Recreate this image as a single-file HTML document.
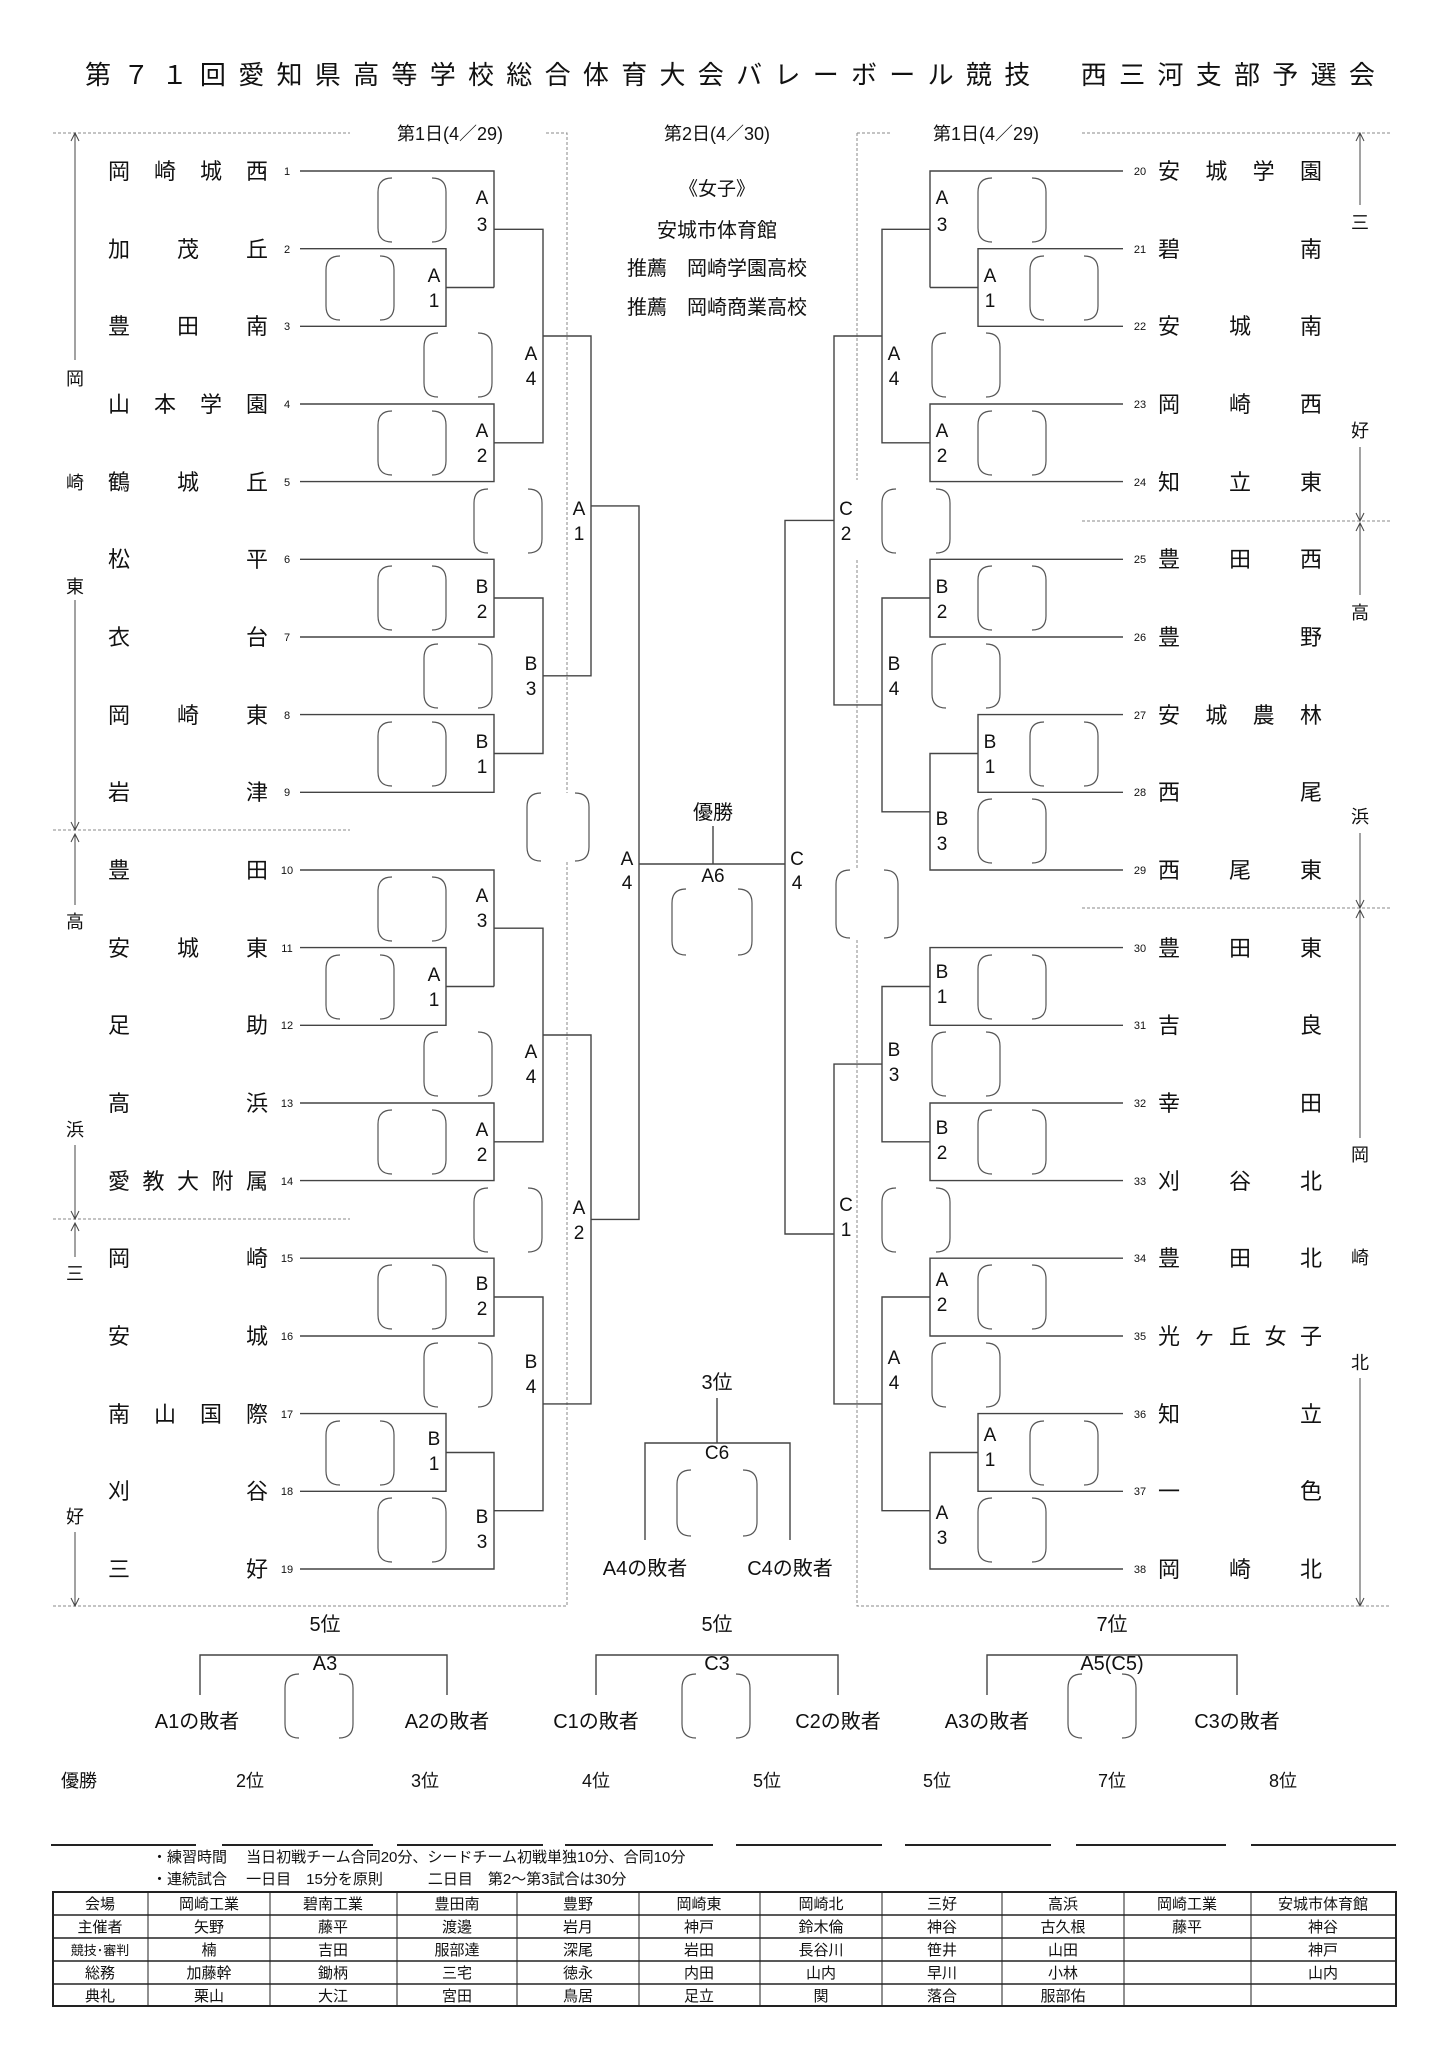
<!DOCTYPE html>
<html><head><meta charset="utf-8"><style>
html,body{margin:0;padding:0;background:#fff}
svg{display:block}
text{font-family:"Liberation Sans","Noto Sans CJK JP",sans-serif;fill:#111}
.n{font-size:22px}
.num{font-size:11px}
.lb{font-size:19px;text-anchor:middle}
.c{text-anchor:middle}
.ln{stroke:#444;stroke-width:1.4;fill:none}
.ds{stroke:#888;stroke-width:1;stroke-dasharray:3 2;fill:none}
.pr{stroke:#555;stroke-width:1.2;fill:none}
.tb{font-size:15px;text-anchor:middle}
</style></head><body>
<svg width="1448" height="2048" viewBox="0 0 1448 2048" xmlns="http://www.w3.org/2000/svg">
<defs>
<path id="p" d="M14 0Q0 0 0 14V50Q0 64 14 64M54 0Q68 0 68 14V50Q68 64 54 64" class="pr"/>
<path id="pc" d="M14 0Q0 0 0 14V54Q0 68 14 68M48 0Q62 0 62 14V54Q62 68 48 68" class="pr"/>
<path id="pb" d="M14 0Q0 0 0 14V52Q0 66 14 66M66 0Q80 0 80 14V52Q80 66 66 66" class="pr"/>
</defs>

<text x="85" y="84" style="font-size:26px;letter-spacing:12.3px">第７１回愛知県高等学校総合体育大会バレーボール競技　西三河支部予選会</text>

<path class="ds" d="M53 133H350M546 133H567V793M567 862V1606H53M53 830H350M53 1219H350"/>
<path class="ds" d="M857 133H890M1082 133H1390M857 133V480M857 560V868M857 940V1606H1390M1082 521H1390M1082 908H1390"/>
<text x="450" y="140" class="c" style="font-size:18px">第1日(4／29)</text>
<text x="717" y="140" class="c" style="font-size:18px">第2日(4／30)</text>
<text x="986" y="140" class="c" style="font-size:18px">第1日(4／29)</text>

<text x="717" y="195" class="c" style="font-size:19px">《女子》</text>
<text x="717" y="237" class="c" style="font-size:20px">安城市体育館</text>
<text x="717" y="275" class="c" style="font-size:20px">推薦　岡崎学園高校</text>
<text x="717" y="314" class="c" style="font-size:20px">推薦　岡崎商業高校</text>

<path class="ln" style="stroke-width:1" d="M75 133V360M71 141L75 133L79 141M75 600V830M71 822L75 830L79 822M75 834V905M71 842L75 834L79 842M75 1145V1219M71 1211L75 1219L79 1211M75 1223V1257M71 1231L75 1223L79 1231M75 1532V1606M71 1598L75 1606L79 1598"/>
<g style="font-size:18px" class="c">
<text x="75" y="385" class="c">岡</text><text x="75" y="489" class="c">崎</text><text x="75" y="593" class="c">東</text>
<text x="75" y="928" class="c">高</text><text x="75" y="1136" class="c">浜</text>
<text x="75" y="1280" class="c">三</text><text x="75" y="1523" class="c">好</text>
</g>
<path class="ln" style="stroke-width:1" d="M1360 133V205M1356 141L1360 133L1364 141M1360 447V521M1356 513L1360 521L1364 513M1360 523V595M1356 531L1360 523L1364 531M1360 833V908M1356 900L1360 908L1364 900M1360 910V1138M1356 918L1360 910L1364 918M1360 1378V1606M1356 1598L1360 1606L1364 1598"/>
<text x="1360" y="229" class="c" style="font-size:18px">三</text><text x="1360" y="437" class="c" style="font-size:18px">好</text>
<text x="1360" y="619" class="c" style="font-size:18px">高</text><text x="1360" y="823" class="c" style="font-size:18px">浜</text>
<text x="1360" y="1161" class="c" style="font-size:18px">岡</text><text x="1360" y="1264" class="c" style="font-size:18px">崎</text><text x="1360" y="1369" class="c" style="font-size:18px">北</text>

<g class="n">
<text x="108" y="179" textLength="160" lengthAdjust="spacing">岡崎城西</text>
<text x="108" y="257" textLength="160" lengthAdjust="spacing">加茂丘</text>
<text x="108" y="334" textLength="160" lengthAdjust="spacing">豊田南</text>
<text x="108" y="412" textLength="160" lengthAdjust="spacing">山本学園</text>
<text x="108" y="490" textLength="160" lengthAdjust="spacing">鶴城丘</text>
<text x="108" y="567" textLength="160" lengthAdjust="spacing">松平</text>
<text x="108" y="645" textLength="160" lengthAdjust="spacing">衣台</text>
<text x="108" y="723" textLength="160" lengthAdjust="spacing">岡崎東</text>
<text x="108" y="800" textLength="160" lengthAdjust="spacing">岩津</text>
<text x="108" y="878" textLength="160" lengthAdjust="spacing">豊田</text>
<text x="108" y="956" textLength="160" lengthAdjust="spacing">安城東</text>
<text x="108" y="1033" textLength="160" lengthAdjust="spacing">足助</text>
<text x="108" y="1111" textLength="160" lengthAdjust="spacing">高浜</text>
<text x="108" y="1189" textLength="160" lengthAdjust="spacing">愛教大附属</text>
<text x="108" y="1266" textLength="160" lengthAdjust="spacing">岡崎</text>
<text x="108" y="1344" textLength="160" lengthAdjust="spacing">安城</text>
<text x="108" y="1422" textLength="160" lengthAdjust="spacing">南山国際</text>
<text x="108" y="1499" textLength="160" lengthAdjust="spacing">刈谷</text>
<text x="108" y="1577" textLength="160" lengthAdjust="spacing">三好</text>
</g>
<g class="num">
<text x="287" y="175" class="c">1</text><text x="287" y="253" class="c">2</text><text x="287" y="330" class="c">3</text><text x="287" y="408" class="c">4</text><text x="287" y="486" class="c">5</text><text x="287" y="563" class="c">6</text><text x="287" y="641" class="c">7</text><text x="287" y="719" class="c">8</text><text x="287" y="796" class="c">9</text><text x="287" y="874" class="c">10</text><text x="287" y="952" class="c">11</text><text x="287" y="1029" class="c">12</text><text x="287" y="1107" class="c">13</text><text x="287" y="1185" class="c">14</text><text x="287" y="1262" class="c">15</text><text x="287" y="1340" class="c">16</text><text x="287" y="1418" class="c">17</text><text x="287" y="1495" class="c">18</text><text x="287" y="1573" class="c">19</text>
</g>
<g class="n">
<text x="1158" y="179" textLength="164" lengthAdjust="spacing">安城学園</text>
<text x="1158" y="257" textLength="164" lengthAdjust="spacing">碧南</text>
<text x="1158" y="334" textLength="164" lengthAdjust="spacing">安城南</text>
<text x="1158" y="412" textLength="164" lengthAdjust="spacing">岡崎西</text>
<text x="1158" y="490" textLength="164" lengthAdjust="spacing">知立東</text>
<text x="1158" y="567" textLength="164" lengthAdjust="spacing">豊田西</text>
<text x="1158" y="645" textLength="164" lengthAdjust="spacing">豊野</text>
<text x="1158" y="723" textLength="164" lengthAdjust="spacing">安城農林</text>
<text x="1158" y="800" textLength="164" lengthAdjust="spacing">西尾</text>
<text x="1158" y="878" textLength="164" lengthAdjust="spacing">西尾東</text>
<text x="1158" y="956" textLength="164" lengthAdjust="spacing">豊田東</text>
<text x="1158" y="1033" textLength="164" lengthAdjust="spacing">吉良</text>
<text x="1158" y="1111" textLength="164" lengthAdjust="spacing">幸田</text>
<text x="1158" y="1189" textLength="164" lengthAdjust="spacing">刈谷北</text>
<text x="1158" y="1266" textLength="164" lengthAdjust="spacing">豊田北</text>
<text x="1158" y="1344" textLength="164" lengthAdjust="spacing">光ヶ丘女子</text>
<text x="1158" y="1422" textLength="164" lengthAdjust="spacing">知立</text>
<text x="1158" y="1499" textLength="164" lengthAdjust="spacing">一色</text>
<text x="1158" y="1577" textLength="164" lengthAdjust="spacing">岡崎北</text>
</g>
<g class="num">
<text x="1140" y="175" class="c">20</text><text x="1140" y="253" class="c">21</text><text x="1140" y="330" class="c">22</text><text x="1140" y="408" class="c">23</text><text x="1140" y="486" class="c">24</text><text x="1140" y="563" class="c">25</text><text x="1140" y="641" class="c">26</text><text x="1140" y="719" class="c">27</text><text x="1140" y="796" class="c">28</text><text x="1140" y="874" class="c">29</text><text x="1140" y="952" class="c">30</text><text x="1140" y="1029" class="c">31</text><text x="1140" y="1107" class="c">32</text><text x="1140" y="1185" class="c">33</text><text x="1140" y="1262" class="c">34</text><text x="1140" y="1340" class="c">35</text><text x="1140" y="1418" class="c">36</text><text x="1140" y="1495" class="c">37</text><text x="1140" y="1573" class="c">38</text>
</g>

<path class="ln" d="
M300 171H494V287.5M300 248.7H446V326.3H300M446 287.5H494
M300 404H494V481.6H300
M300 559.3H494V637H300
M300 714.6H494V792.3H300
M300 870H494V986.5M300 947.6H446V1025.3H300M446 986.5H494
M300 1103H494V1180.6H300
M300 1258.2H494V1336H300
M300 1413.6H446V1491.3H300M446 1452.5H494V1569H300
M494 229.3H543V442.8H494
M494 598H543V753.5H494
M494 928.2H543V1141.8H494
M494 1297H543V1510.7H494
M543 336H591V675.8H543
M543 1035H591V1403.9H543
M591 505.9H639V1219.4H591
M639 864H785
M713 826V864"/>
<path class="ln" d="
M1123 171H930V287.5M1123 248.7H978V326.3H1123M978 287.5H930
M1123 404H930V481.6H1123
M1123 559.3H930V637H1123
M1123 714.6H978V792.3H1123M978 753.5H930V870H1123
M1123 947.6H930V1025.3H1123
M1123 1103H930V1180.6H1123
M1123 1258.2H930V1336H1123
M1123 1413.6H978V1491.3H1123M978 1452.5H930V1569H1123
M930 229.3H882V442.8H930
M930 598H882V811.8H930
M930 986.5H882V1141.8H930
M930 1297H882V1510.7H930
M882 336H834V704.9H882
M882 1064.1H834V1403.9H882
M834 520.4H785V1234H834"/>

<g class="lb">
<text x="482" y="204">A</text><text x="482" y="231">3</text>
<text x="434" y="282">A</text><text x="434" y="307">1</text>
<text x="531" y="360">A</text><text x="531" y="385">4</text>
<text x="482" y="437">A</text><text x="482" y="462">2</text>
<text x="579" y="515">A</text><text x="579" y="540">1</text>
<text x="482" y="593">B</text><text x="482" y="618">2</text>
<text x="531" y="670">B</text><text x="531" y="695">3</text>
<text x="482" y="748">B</text><text x="482" y="773">1</text>
<text x="627" y="865">A</text><text x="627" y="889">4</text>
<text x="482" y="902">A</text><text x="482" y="927">3</text>
<text x="434" y="981">A</text><text x="434" y="1006">1</text>
<text x="531" y="1058">A</text><text x="531" y="1083">4</text>
<text x="482" y="1136">A</text><text x="482" y="1161">2</text>
<text x="579" y="1214">A</text><text x="579" y="1239">2</text>
<text x="482" y="1290">B</text><text x="482" y="1315">2</text>
<text x="531" y="1368">B</text><text x="531" y="1393">4</text>
<text x="434" y="1445">B</text><text x="434" y="1470">1</text>
<text x="482" y="1523">B</text><text x="482" y="1548">3</text>
<text x="942" y="204">A</text><text x="942" y="231">3</text>
<text x="990" y="282">A</text><text x="990" y="307">1</text>
<text x="894" y="360">A</text><text x="894" y="385">4</text>
<text x="942" y="437">A</text><text x="942" y="462">2</text>
<text x="846" y="515">C</text><text x="846" y="540">2</text>
<text x="942" y="593">B</text><text x="942" y="618">2</text>
<text x="894" y="670">B</text><text x="894" y="695">4</text>
<text x="990" y="748">B</text><text x="990" y="773">1</text>
<text x="942" y="825">B</text><text x="942" y="850">3</text>
<text x="797" y="865">C</text><text x="797" y="889">4</text>
<text x="942" y="978">B</text><text x="942" y="1003">1</text>
<text x="894" y="1056">B</text><text x="894" y="1081">3</text>
<text x="942" y="1134">B</text><text x="942" y="1159">2</text>
<text x="846" y="1211">C</text><text x="846" y="1236">1</text>
<text x="942" y="1286">A</text><text x="942" y="1311">2</text>
<text x="894" y="1364">A</text><text x="894" y="1389">4</text>
<text x="990" y="1441">A</text><text x="990" y="1466">1</text>
<text x="942" y="1519">A</text><text x="942" y="1544">3</text>
</g>

<text x="713" y="819" class="c" style="font-size:20px">優勝</text>
<text x="713" y="882" class="c" style="font-size:19px">A6</text>
<use href="#pb" x="672" y="889"/>

<use href="#p" x="378" y="178"/><use href="#p" x="326" y="256"/><use href="#p" x="424" y="333"/>
<use href="#p" x="378" y="411"/><use href="#p" x="474" y="489"/><use href="#p" x="378" y="566"/>
<use href="#p" x="424" y="644"/><use href="#p" x="378" y="722"/><use href="#pc" x="527" y="793"/>
<use href="#p" x="378" y="877"/><use href="#p" x="326" y="955"/><use href="#p" x="424" y="1032"/>
<use href="#p" x="378" y="1110"/><use href="#p" x="474" y="1188"/><use href="#p" x="378" y="1265"/>
<use href="#p" x="424" y="1343"/><use href="#p" x="326" y="1421"/><use href="#p" x="378" y="1498"/>
<use href="#p" x="978" y="178"/><use href="#p" x="1030" y="256"/><use href="#p" x="932" y="333"/>
<use href="#p" x="978" y="411"/><use href="#p" x="882" y="489"/><use href="#p" x="978" y="566"/>
<use href="#p" x="932" y="644"/><use href="#p" x="1030" y="722"/><use href="#p" x="978" y="799"/>
<use href="#pc" x="836" y="870"/><use href="#p" x="978" y="955"/><use href="#p" x="932" y="1032"/>
<use href="#p" x="978" y="1110"/><use href="#p" x="882" y="1188"/><use href="#p" x="978" y="1265"/>
<use href="#p" x="932" y="1343"/><use href="#p" x="1030" y="1421"/><use href="#p" x="978" y="1498"/>

<g transform="translate(0,-10)">
<text x="717" y="1399" class="c" style="font-size:20px">3位</text>
<path class="ln" d="M717 1408V1453M645 1550V1453H790V1550"/>
<text x="717" y="1469" class="c" style="font-size:19px">C6</text>
<use href="#pb" x="677" y="1480"/>
<text x="645" y="1585" class="c" style="font-size:20px">A4の敗者</text>
<text x="790" y="1585" class="c" style="font-size:20px">C4の敗者</text>
</g>

<g transform="translate(0,-12)">
<g style="font-size:20px">
<text x="325" y="1643" class="c">5位</text><text x="717" y="1643" class="c">5位</text><text x="1112" y="1643" class="c">7位</text>
<text x="325" y="1682" class="c">A3</text><text x="717" y="1682" class="c">C3</text><text x="1112" y="1682" class="c">A5(C5)</text>
<text x="197" y="1740" class="c">A1の敗者</text><text x="447" y="1740" class="c">A2の敗者</text>
<text x="596" y="1740" class="c">C1の敗者</text><text x="838" y="1740" class="c">C2の敗者</text>
<text x="987" y="1740" class="c">A3の敗者</text><text x="1237" y="1740" class="c">C3の敗者</text>
</g>
<path class="ln" d="M200 1707V1667H447V1707M596 1707V1667H838V1707M987 1707V1667H1237V1707"/>
<use href="#p" x="285" y="1686"/><use href="#p" x="682" y="1686"/><use href="#p" x="1068" y="1686"/>

<g style="font-size:18px">
<text x="79" y="1799" class="c">優勝</text><text x="250" y="1799" class="c">2位</text><text x="425" y="1799" class="c">3位</text><text x="596" y="1799" class="c">4位</text>
<text x="767" y="1799" class="c">5位</text><text x="937" y="1799" class="c">5位</text><text x="1112" y="1799" class="c">7位</text><text x="1283" y="1799" class="c">8位</text>
</g>
</g>

<path stroke="#222" stroke-width="2" d="M51 1845H196M222 1845H373M397 1845H543M565 1845H713M736 1845H882M905 1845H1051M1076 1845H1226M1251 1845H1396"/>
<g transform="translate(0,-4)">
<text x="152" y="1866" style="font-size:15px">・練習時間　 当日初戦チーム合同20分、シードチーム初戦単独10分、合同10分</text>
<text x="152" y="1888" style="font-size:15px">・連続試合　 一日目　15分を原則　　　二日目　第2～第3試合は30分</text>
<g stroke="#222" fill="none">
<rect x="53" y="1896" width="1343" height="114" stroke-width="2"/>
<path stroke-width="1.5" d="M53 1919H1396M53 1942H1396M53 1965H1396M53 1988H1396"/>
<path stroke-width="1" d="M148 1896V2010M270 1896V2010M397 1896V2010M517 1896V2010M639 1896V2010M760 1896V2010M882 1896V2010M1002 1896V2010M1124 1896V2010M1251 1896V2010"/>
</g>
<g class="tb">
<text x="100" y="1913">会場</text><text x="209" y="1913">岡崎工業</text><text x="333" y="1913">碧南工業</text><text x="457" y="1913">豊田南</text><text x="578" y="1913">豊野</text><text x="699" y="1913">岡崎東</text><text x="821" y="1913">岡崎北</text><text x="942" y="1913">三好</text><text x="1063" y="1913">高浜</text><text x="1187" y="1913">岡崎工業</text><text x="1323" y="1913">安城市体育館</text>
<text x="100" y="1936">主催者</text><text x="209" y="1936">矢野</text><text x="333" y="1936">藤平</text><text x="457" y="1936">渡邊</text><text x="578" y="1936">岩月</text><text x="699" y="1936">神戸</text><text x="821" y="1936">鈴木倫</text><text x="942" y="1936">神谷</text><text x="1063" y="1936">古久根</text><text x="1187" y="1936">藤平</text><text x="1323" y="1936">神谷</text>
<text x="100" y="1959" style="font-size:13px">競技･審判</text><text x="209" y="1959">楠</text><text x="333" y="1959">吉田</text><text x="457" y="1959">服部達</text><text x="578" y="1959">深尾</text><text x="699" y="1959">岩田</text><text x="821" y="1959">長谷川</text><text x="942" y="1959">笹井</text><text x="1063" y="1959">山田</text><text x="1323" y="1959">神戸</text>
<text x="100" y="1982">総務</text><text x="209" y="1982">加藤幹</text><text x="333" y="1982">鋤柄</text><text x="457" y="1982">三宅</text><text x="578" y="1982">徳永</text><text x="699" y="1982">内田</text><text x="821" y="1982">山内</text><text x="942" y="1982">早川</text><text x="1063" y="1982">小林</text><text x="1323" y="1982">山内</text>
<text x="100" y="2005">典礼</text><text x="209" y="2005">栗山</text><text x="333" y="2005">大江</text><text x="457" y="2005">宮田</text><text x="578" y="2005">鳥居</text><text x="699" y="2005">足立</text><text x="821" y="2005">関</text><text x="942" y="2005">落合</text><text x="1063" y="2005">服部佑</text>
</g>
</g>
</svg>
</body></html>
